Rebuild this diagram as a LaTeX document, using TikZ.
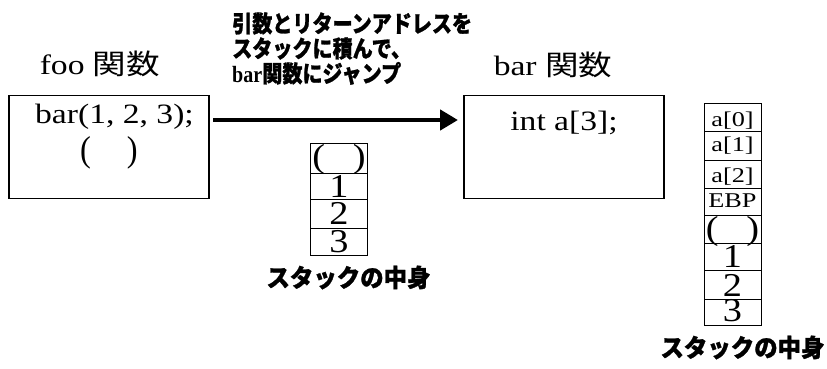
\documentclass[tikz,border=0pt]{standalone}
\usepackage{fontspec}
\setmainfont{Liberation Serif}
\newfontfamily\cjk{Noto Sans CJK JP}
\newfontfamily\cjkheavy[FakeBold=1.2]{Noto Sans CJK JP}
\usetikzlibrary{arrows.meta}
\begin{document}
\begin{tikzpicture}[x=0.75pt,y=-0.75pt,
  fbox/.style={draw, line width=0.8pt, minimum width=150pt, minimum height=77.25pt, inner sep=0pt},
  cell/.style={draw, line width=0.75pt, minimum width=42.75pt, inner sep=0pt},
  txt/.style={inner sep=0pt, font=\fontsize{21}{24}\selectfont, xscale=1.2},
  paren/.style={inner sep=0pt, font=\fontsize{27}{30}\selectfont, xscale=0.9},
  small/.style={inner sep=0pt, font=\fontsize{15.75}{18}\selectfont, xscale=1.25},
  big/.style={inner sep=0pt, font=\fontsize{25}{28}\selectfont, xscale=1.15},
  jp/.style={inner sep=0pt, font=\fontsize{18.5}{20}\cjkheavy\bfseries, xscale=0.95},
  title/.style={inner sep=0pt, align=left, font=\fontsize{17.5}{18.75}\cjkheavy\bfseries, xscale=0.86},
  arr/.style={line width=3.4pt, -{Triangle[length=13.5pt,width=15pt]}}]
\useasboundingbox (0,0) rectangle (827,368);

% foo
\node[txt] (footitle) at (100,64) {foo {\cjk 関数}};
\node[fbox] (foo) at (109,147) {};
\node[txt] (call) at (114.5,117) {bar(1, 2, 3);};
\node[paren] (ret) at (109,153) {(\hspace{30pt})};

% bar
\node[txt] (bartitle) at (553,65) {bar {\cjk 関数}};
\node[fbox] (bar) at (564,147) {};
\node[txt] (decl) at (564,123) {int a[3];};

% arrow
\coordinate (a1) at (213,120);
\coordinate (a2) at (458,120);
\draw[arr] (a1) -- (a2);
\node[title, anchor=north west] (msg) at (232,12) {引数とリターンアドレスを\\スタックに積んで、\\{\rmfamily bar}関数にジャンプ};

% stack 1
\node[cell, minimum height=22.5pt] (s1r) at (339,158) {};
\node[cell, minimum height=19.5pt] (s11) at (339,186) {};
\node[cell, minimum height=21.75pt] (s12) at (339,213.5) {};
\node[cell, minimum height=20.25pt] (s13) at (339,241.5) {};
\node[big] (t1r) at (339,159) {(\hspace{18pt})};
\node[big] (t11) at (339,186) {1};
\node[big] (t12) at (339,213.5) {2};
\node[big] (t13) at (339,241.5) {3};
\node[jp] (lab1) at (348.5,277.5) {スタックの中身};

% stack 2
\node[cell, minimum height=21pt] (s2a0) at (732.5,117) {};
\node[cell, minimum height=21.75pt] (s2a1) at (732.5,145.5) {};
\node[cell, minimum height=21pt] (s2a2) at (732.5,174) {};
\node[cell, minimum height=20.25pt] (s2e) at (732.5,201.5) {};
\node[cell, minimum height=21pt] (s2r) at (732.5,229) {};
\node[cell, minimum height=20.25pt] (s21) at (732.5,256.5) {};
\node[cell, minimum height=21.75pt] (s22) at (732.5,284.5) {};
\node[cell, minimum height=19.5pt] (s23) at (732.5,312) {};
\node[small] (ta0) at (732.5,121) {a[0]};
\node[small] (ta1) at (732.5,146) {a[1]};
\node[small] (ta2) at (732.5,177) {a[2]};
\node[small] (tebp) at (732.5,201) {EBP};
\node[big] (t2r) at (732.5,231) {(\hspace{18pt})};
\node[big] (t21) at (732.5,256.5) {1};
\node[big] (t22) at (732.5,285) {2};
\node[big] (t23) at (732.5,311) {3};
\node[jp] (lab2) at (742.5,347.5) {スタックの中身};
\end{tikzpicture}
\end{document}
